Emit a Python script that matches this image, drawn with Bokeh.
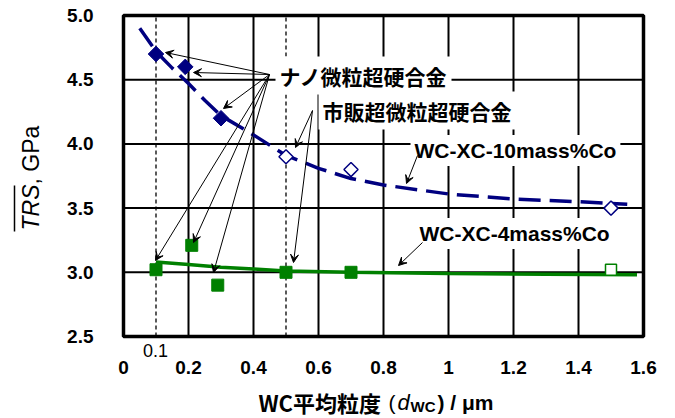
import numpy as np
from bokeh.plotting import figure
from bokeh.models import (Range1d, FixedTicker, NumeralTickFormatter, PrintfTickFormatter,
                          Label, Arrow, VeeHead)
from bokeh.embed import file_html
from bokeh.resources import INLINE

# ---------------- data ----------------
nano10_x = [0.10, 0.19, 0.30]          # ナノ微粒超硬合金, WC-XC-10mass%Co
nano10_y = [4.70, 4.60, 4.20]
comm10_x = [0.50, 0.70, 1.50]          # 市販超微粒超硬合金, 10mass%Co
comm10_y = [3.90, 3.80, 3.50]
nano4_x = [0.10, 0.21, 0.29]           # ナノ微粒超硬合金, 4mass%Co
nano4_y = [3.02, 3.21, 2.90]
comm4_x = [0.50, 0.70]                 # filled squares, 4mass%Co
comm4_y = [3.00, 3.00]
open4_x = [1.50]                       # open square, 4mass%Co
open4_y = [3.02]

fit10_x = [0.05, 0.10, 0.15, 0.20, 0.25, 0.30, 0.40, 0.50, 0.60, 0.70, 0.80, 1.00, 1.20, 1.40, 1.55]
fit10_y = [4.90, 4.72, 4.59, 4.47, 4.34, 4.22, 4.07, 3.91, 3.81, 3.73, 3.68, 3.61, 3.57, 3.55, 3.53]
fit4_x = [0.10, 0.20, 0.30, 0.40, 0.50, 0.70, 1.00, 1.30, 1.58]
fit4_y = [3.08, 3.06, 3.04, 3.025, 3.01, 3.00, 2.99, 2.985, 2.98]

x_min, x_max = 0.0, 1.6
y_min, y_max = 2.5, 5.0
x_ticks = [0, 0.2, 0.4, 0.6, 0.8, 1.0, 1.2, 1.4, 1.6]
y_ticks = [2.5, 3.0, 3.5, 4.0, 4.5, 5.0]
x_grid = [0.2, 0.4, 0.6, 0.8, 1.0, 1.2, 1.4]
y_grid = [3.0, 3.5, 4.0, 4.5]
ref_lines = [0.1, 0.5]

label_nano = "ナノ微粒超硬合金"
label_comm = "市販超微粒超硬合金"
label_10 = "WC-XC-10mass%Co"
label_4 = "WC-XC-4mass%Co"

# ---------------- layout ----------------
NAVY = "#000080"
GREEN = "#008000"
CJK = "Noto Sans CJK JP"
LAT = "Liberation Sans"

W, H = 674, 417
BOX_L, BOX_R, BOX_T, BOX_B = 123, 643, 15, 336      # pixel box of the axes
SX = (BOX_R - BOX_L) / (x_max - x_min)
SY = (BOX_B - BOX_T) / (y_max - y_min)

def dx(px):
    return x_min + (px - BOX_L) / SX

def dy(py):
    return y_max - (py - BOX_T) / SY

p = figure(width=W, height=H,
           x_range=Range1d(dx(0), dx(W)), y_range=Range1d(dy(H), dy(0)),
           output_backend="svg", toolbar_location=None, min_border=0)
p.background_fill_color = "white"
p.border_fill_color = "white"
p.outline_line_color = None
p.grid.visible = False

p.xaxis.fixed_location = y_min
p.yaxis.fixed_location = x_min
p.xaxis.ticker = FixedTicker(ticks=x_ticks)
p.yaxis.ticker = FixedTicker(ticks=y_ticks)
p.xaxis.formatter = NumeralTickFormatter(format="0.[0]")
p.yaxis.formatter = PrintfTickFormatter(format="%.1f")
for ax in (p.xaxis[0], p.yaxis[0]):
    ax.axis_line_color = None
    ax.major_tick_line_color = None
    ax.minor_tick_line_color = None
    ax.major_tick_out = 0
    ax.major_tick_in = 0
    ax.major_label_text_font = LAT
    ax.major_label_text_font_style = "bold"
    ax.major_label_text_font_size = "19px"
    ax.major_label_text_color = "black"
p.xaxis.major_label_standoff = 24
p.yaxis.major_label_standoff = 30

# grid lines and dashed reference lines
p.segment(x0=x_grid, y0=[y_min] * len(x_grid), x1=x_grid, y1=[y_max] * len(x_grid),
          line_color="black", line_width=2)
p.segment(x0=[x_min] * len(y_grid), y0=y_grid, x1=[x_max] * len(y_grid), y1=y_grid,
          line_color="black", line_width=2)
p.segment(x0=ref_lines, y0=[y_min] * 2, x1=ref_lines, y1=[y_max] * 2,
          line_color="black", line_width=1.3, line_dash="4 3")

# fitted curves
p.line(fit10_x, fit10_y, line_color=NAVY, line_width=3.5, line_dash="22 9")
p.line(fit4_x, fit4_y, line_color=GREEN, line_width=3.5)

# points
p.scatter(nano10_x, nano10_y, marker="square", size=11, angle=np.pi / 4,
          fill_color=NAVY, line_color=NAVY)
p.scatter(comm10_x, comm10_y, marker="square", size=10, angle=np.pi / 4,
          fill_color="white", line_color=NAVY, line_width=1.5)
p.scatter(nano4_x, nano4_y, marker="square", size=12, fill_color=GREEN, line_color=GREEN)
p.scatter(comm4_x, comm4_y, marker="square", size=12, fill_color=GREEN, line_color=GREEN)
p.scatter(open4_x, open4_y, marker="square", size=11, fill_color="white",
          line_color=GREEN, line_width=1.5)

# axes box
p.quad(left=[x_min], right=[x_max], bottom=[y_min], top=[y_max],
       fill_color=None, line_color="black", line_width=3.5)


def lab(text, px, py, font=CJK, size="20px", style="bold", **kw):
    p.add_layout(Label(text=text, x=dx(px), y=dy(py), text_font=font, text_font_size=size,
                       text_font_style=style, text_color="black", **kw))


# annotation labels with white boxes
for text, px, py, font, size in [(label_nano, 275, 75, CJK, "21px"),
                                 (label_comm, 318, 110, CJK, "21px"),
                                 (label_10, 410, 150, LAT, "21px"),
                                 (label_4, 415, 233, LAT, "21px")]:
    lab(text, px, py, font=font, size=size, text_baseline="middle", text_align="left",
        background_fill_color="white", padding=4)

# pointer arrows (pixel positions of start / tip)
nano_origin = (269, 74)
nano_tips = [(165, 52), (193, 72), (223, 108), (155, 260), (193, 242), (213, 272)]
comm_origin = (312, 110)
comm_tips = [(295, 147), (293, 262)]
pointers = [(nano_origin, t) for t in nano_tips] + [(comm_origin, t) for t in comm_tips]
pointers += [((417, 155), (406, 183)), ((422, 242), (398, 265))]
for (xs, ys), (xe, ye) in pointers:
    p.add_layout(Arrow(x_start=dx(xs), y_start=dy(ys), x_end=dx(xe), y_end=dy(ye),
                       line_color="black", line_width=1,
                       end=VeeHead(size=8, fill_color="black", line_color="black",
                                   line_width=1)))

# extra "0.1" tick note under the dashed line
lab("0.1", 155, 350, font=LAT, size="18px", style="normal",
    text_align="center", text_baseline="middle")

# y axis title: overline(TRS), GPa
lab("TRS", 30, 230, font=LAT, size="23px", style="italic", angle=np.pi / 2,
    text_align="left", text_baseline="middle")
lab(", GPa", 30, 184, font=LAT, size="23px", style="normal", angle=np.pi / 2,
    text_align="left", text_baseline="middle")
p.segment(x0=[dx(14)], y0=[dy(231)], x1=[dx(14)], y1=[dy(185)],
          line_color="black", line_width=1.5)

# x axis title: WC平均粒度 (d_WC) / μm
lab("WC平均粒度", 258, 401, font=CJK, size="22px",
    text_align="left", text_baseline="middle")
lab("(", 388, 402, font=LAT, size="21px", style="normal",
    text_align="left", text_baseline="middle")
lab("d", 397, 402, font=LAT, size="22px", style="italic",
    text_align="left", text_baseline="middle")
lab("WC", 410, 406, font=LAT, size="15px", style="bold",
    text_align="left", text_baseline="middle")
lab(") / μm", 437, 402, font=LAT, size="21px", style="bold",
    text_align="left", text_baseline="middle")

open("out.html", "w").write(file_html(p, INLINE))
